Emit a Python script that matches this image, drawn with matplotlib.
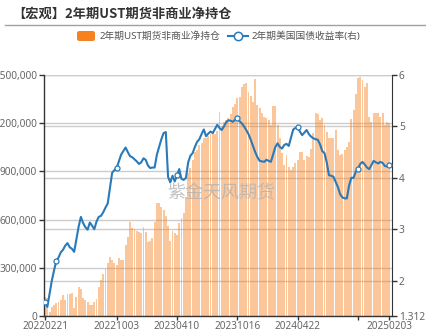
import matplotlib.pyplot as plt
import matplotlib.transforms as mtransforms
from matplotlib.lines import Line2D
from matplotlib.patches import FancyBboxPatch
from matplotlib.ticker import FuncFormatter
import pandas as pd

plt.rcParams['font.family'] = ['Noto Sans', 'Noto Sans CJK SC', 'DejaVu Sans']

# weekly observations, 2022-02-21 .. 2025-02-03
dates = pd.date_range('2022-02-21', periods=155, freq='7D')

# non-commercial net position, 2Y UST futures (contracts)
net_pos = [
    120000, 110000, 25000, 55000, 68000, 80000, 90000, 100000, 130000, 100000,
    137000, 137000, 145000, 48000, 120000, 178000, 166000, 110000, 100000, 89000,
    68000, 68000, 89000, 104000, 182000, 224000, 260000, 290000, 330000, 365000,
    349000, 328000, 317000, 359000, 349000, 349000, 442000, 494000, 587000, 550000,
    540000, 530000, 525000, 515000, 556000, 525000, 462000, 465000, 483000, 587000,
    701000, 701000, 680000, 660000, 625000, 560000, 465000, 530000, 515000, 504000,
    577000, 610000, 639000, 743000, 888000, 919000, 971000, 1023000, 1033000, 1064000,
    1079000, 1106000, 1110000, 1120000, 1133000, 1141000, 1130000, 1150000, 1271000, 1180000,
    1210000, 1220000, 1230000, 1255000, 1300000, 1320000, 1355000, 1360000, 1427000, 1444000,
    1452000, 1396000, 1370000, 1334000, 1473000, 1313000, 1293000, 1265000, 1240000, 1230000,
    1220000, 1189000, 1307000, 1307000, 1189000, 1106000, 1012000, 940000, 1002000, 929000,
    909000, 925000, 950000, 970000, 1023000, 1023000, 971000, 996000, 988000, 1037000,
    1137000, 1265000, 1260000, 1220000, 1230000, 1189000, 1147000, 1106000, 1106000, 1106000,
    1158000, 1033000, 1002000, 1010000, 1033000, 1050000, 1085000, 1224000, 1282000, 1382000,
    1479000, 1490000, 1470000, 1423000, 1452000, 1240000, 1209000, 1261000, 1261000, 1265000,
    1240000, 1265000, 1189000, 1209000, 1203000,
]

# US 2Y treasury yield (%)
yield_2y = [
    1.58, 1.49, 1.75, 2.00, 2.20, 2.38, 2.45, 2.55, 2.60, 2.68,
    2.73, 2.65, 2.62, 2.56, 2.80, 3.05, 3.24, 3.12, 3.04, 2.99,
    3.13, 3.07, 3.00, 3.15, 3.24, 3.26, 3.33, 3.42, 3.50, 3.80,
    4.10, 4.15, 4.19, 4.32, 4.45, 4.52, 4.59, 4.50, 4.42, 4.40,
    4.36, 4.32, 4.27, 4.30, 4.38, 4.35, 4.24, 4.19, 4.20, 4.20,
    4.45, 4.60, 4.75, 4.87, 4.89, 4.02, 3.91, 4.04, 3.93, 4.05,
    4.17, 3.98, 3.96, 4.00, 4.30, 4.43, 4.48, 4.60, 4.70, 4.75,
    4.85, 4.94, 4.81, 4.86, 4.90, 4.87, 4.95, 5.03, 4.97, 4.93,
    5.00, 5.08, 5.12, 5.11, 5.09, 5.13, 5.16, 5.10, 5.06, 5.00,
    4.93, 4.85, 4.74, 4.62, 4.50, 4.40, 4.33, 4.32, 4.31, 4.35,
    4.33, 4.31, 4.45, 4.60, 4.67, 4.60, 4.57, 4.64, 4.66, 4.62,
    4.78, 4.94, 4.97, 4.98, 4.90, 4.83, 4.88, 4.93, 4.85, 4.80,
    4.77, 4.75, 4.74, 4.65, 4.52, 4.48, 4.30, 4.05, 4.04, 4.02,
    3.92, 3.82, 3.68, 3.62, 3.60, 3.60, 3.85, 4.00, 4.00, 4.12,
    4.18, 4.27, 4.31, 4.26, 4.20, 4.17, 4.25, 4.33, 4.30, 4.28,
    4.31, 4.29, 4.23, 4.22, 4.24,
]

label_dates = ['20220221', '20221003', '20230410', '20231016', '20240422', '20250203']
extra_tick_date = '20241028'
marker_dates = ['20220221', '20220328', '20221003', '20230410', '20231016',
                '20240422', '20241028', '20250203']

left_ticks = [0, 300000, 600000, 900000, 1200000, 1500000]
right_ticks = [1.312, 2, 3, 4, 5, 6]

bar_color = '#f5821f'
line_color = '#2a7ab9'
grid_color = '#cccccc'
axis_color = '#333333'
text_color = '#666666'

date_str = [d.strftime('%Y%m%d') for d in dates]
x = list(range(len(dates)))

fig = plt.figure(figsize=(4.27, 3.31), dpi=100)
ax = fig.add_axes([44 / 427, 15 / 331, 348 / 427, 241 / 331])
ax2 = ax.twinx()

ax.set_xlim(-0.5, 155.2)
ax.set_ylim(0, 1500000)
ax2.set_ylim(1.312, 6)

# horizontal grid for both scales, kept under the bars
for v in left_ticks:
    ax.axhline(v, color=grid_color, lw=1, zorder=0)
blend = mtransforms.blended_transform_factory(ax.transAxes, ax2.transData)
for v in right_ticks[1:]:
    ax.add_line(Line2D([0, 1], [v, v], transform=blend, color=grid_color, lw=1, zorder=0))

ax.bar(x, net_pos, width=0.85, color=bar_color, alpha=0.45, lw=0, zorder=1)

marks = [date_str.index(d) for d in marker_dates]
ax2.plot(x, yield_2y, color=line_color, lw=1.5, marker='o', markevery=marks,
         markersize=3.6, markerfacecolor='white', markeredgecolor=line_color,
         markeredgewidth=0.9, zorder=3)

# axes styling
ax.spines['top'].set_visible(False)
ax2.spines['top'].set_visible(False)
for sp in ['left', 'bottom']:
    ax.spines[sp].set_color(axis_color)
    ax.spines[sp].set_linewidth(1)
ax.spines['right'].set_visible(False)
ax2.spines['left'].set_visible(False)
ax2.spines['bottom'].set_visible(False)
ax2.spines['right'].set_color(axis_color)

ax.set_yticks(left_ticks)
ax.yaxis.set_major_formatter(FuncFormatter(lambda v, p: f'{int(v):,}'))
ax2.set_yticks(right_ticks)
ax2.set_yticklabels(['1.312', '2', '3', '4', '5', '6'])

tick_idx = [date_str.index(d) for d in label_dates] + [date_str.index(extra_tick_date)]
tick_lab = label_dates + ['']
ax.set_xticks(tick_idx)
ax.set_xticklabels(tick_lab)

for a in (ax, ax2):
    a.tick_params(axis='y', colors=axis_color, labelcolor=text_color,
                  labelsize=7.3, length=3.5, width=1, pad=1.5)
ax.tick_params(axis='x', colors=axis_color, labelcolor=text_color,
               labelsize=7.2, length=3, width=1, pad=0.3)

# title and separator
fig.text(12 / 427, 1 - 14 / 331, '【宏观】2年期UST期货非商业净持仓', fontsize=9.5,
         fontweight='bold', family=['Noto Sans CJK SC', 'DejaVu Sans'],
         color='#333333', va='center', ha='left')
fig.add_artist(Line2D([5 / 427, 1], [1 - 25 / 331, 1 - 25 / 331], color='#a0a0a0', lw=1))

# legend
ly = 1 - 36 / 331
fig.add_artist(FancyBboxPatch((77 / 427, 1 - 41 / 331), 18 / 427, 10 / 331,
                              boxstyle='round,pad=0,rounding_size=0.006',
                              facecolor=bar_color, edgecolor='none', transform=fig.transFigure))
fig.text(100 / 427, ly, '2年期UST期货非商业净持仓', fontsize=7, color='#555555',
         va='center', ha='left')
fig.add_artist(Line2D([228 / 427, 248 / 427], [ly, ly], color=line_color, lw=1.5))
fig.add_artist(Line2D([238 / 427], [ly], marker='o', markersize=6, markerfacecolor='white',
                      markeredgecolor=line_color, markeredgewidth=1.1))
fig.text(252 / 427, ly, '2年期美国国债收益率(右)', fontsize=7, color='#555555',
         va='center', ha='left')

# watermark
fig.text(221 / 427, 1 - 193 / 331, '紫金天风期货', fontsize=13, color='#b4b4b4',
         alpha=0.8, va='center', ha='center')

fig.savefig('out.png', dpi=100)
